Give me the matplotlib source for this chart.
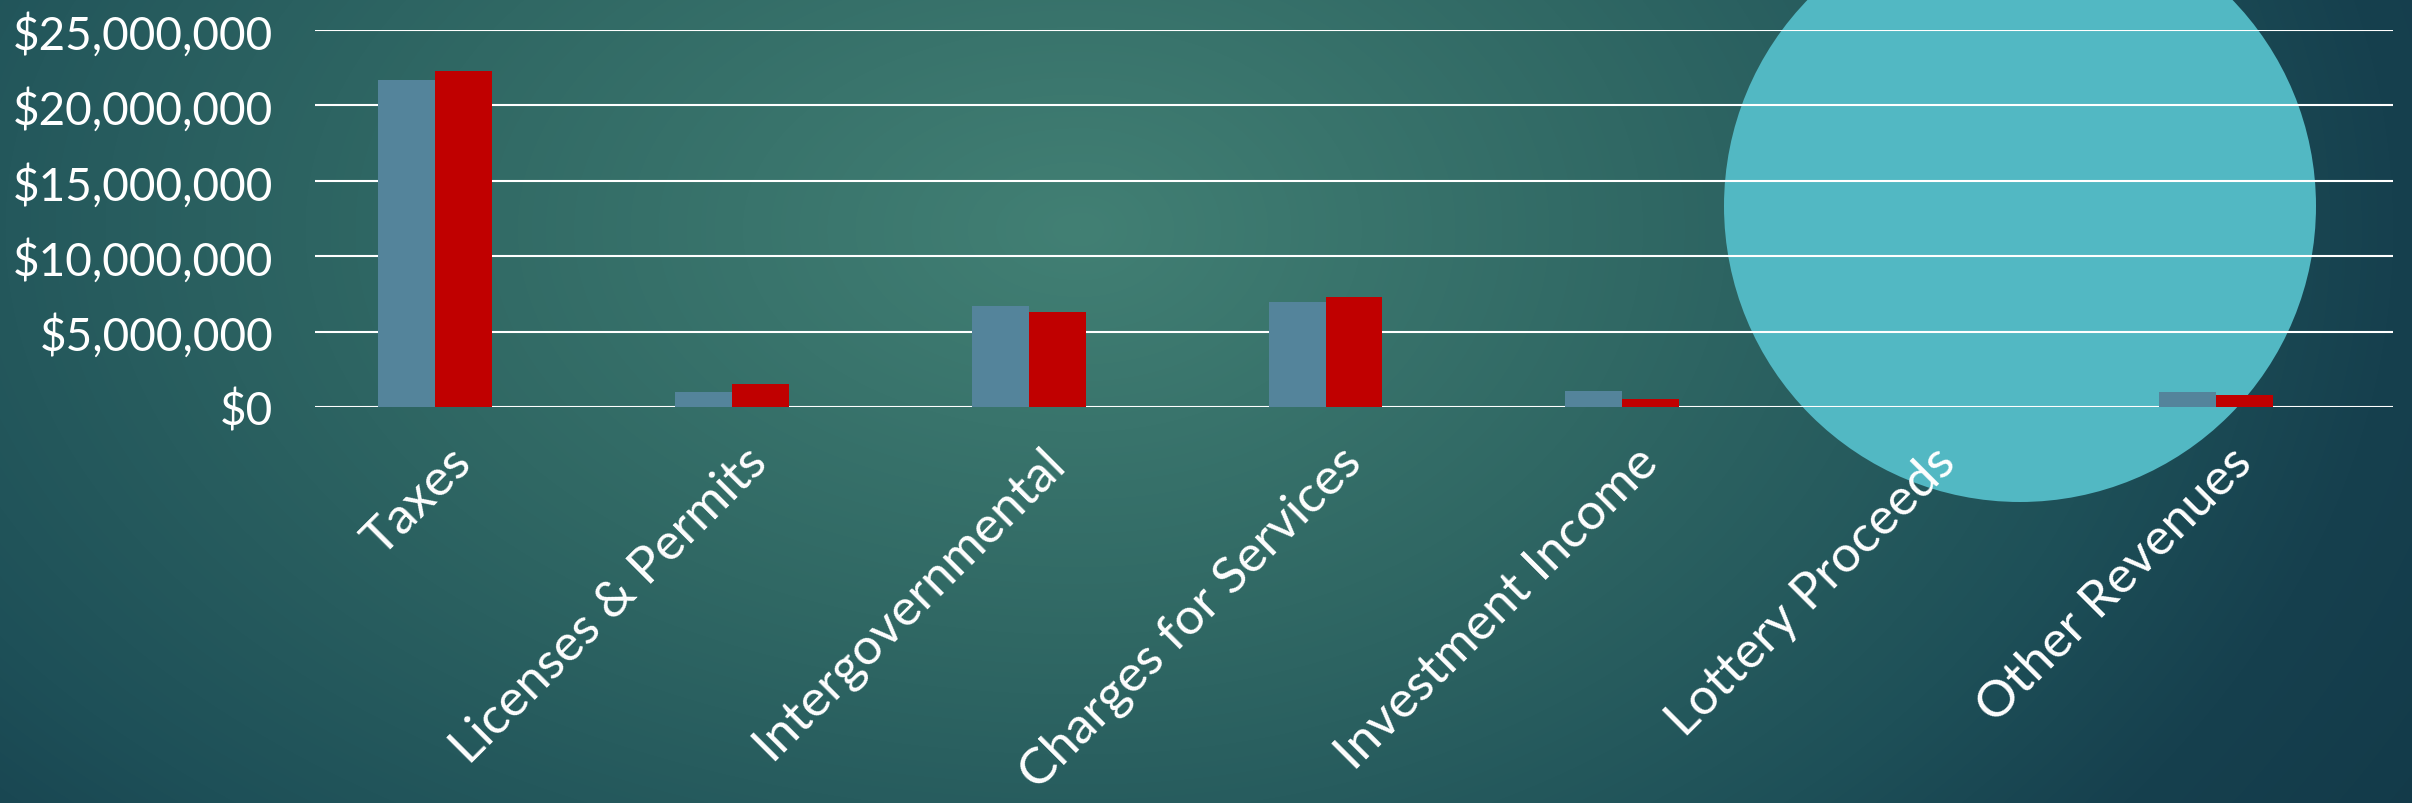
import numpy as np
import matplotlib
matplotlib.use("Agg")
import matplotlib.pyplot as plt
from matplotlib.patches import Ellipse
from matplotlib.ticker import StrMethodFormatter, FixedLocator

# Revenue by source, two fiscal years
categories = ["Taxes", "Licenses & Permits", "Intergovernmental",
              "Charges for Services", "Investment Income",
              "Lottery Proceeds", "Other Revenues"]
revenue_prior = [21_660_000, 1_010_000, 6_720_000, 6_980_000, 1_080_000, 0, 1_010_000]
revenue_current = [22_260_000, 1_550_000, 6_320_000, 7_310_000, 550_000, 0, 820_000]
y_ticks = [0, 5_000_000, 10_000_000, 15_000_000, 20_000_000, 25_000_000]

W, H, DPI = 2412, 804, 100
FONT = "Lato"

fig = plt.figure(figsize=(W / DPI, H / DPI), dpi=DPI)

# ---- slide background: radial teal gradient plus a decorative disc ----
bg = fig.add_axes([0, 0, 1, 1], zorder=-5)
bg.set_xlim(0, W)
bg.set_ylim(H, 0)
bg.axis("off")
yy, xx = np.mgrid[0:H, 0:W].astype(float)
cx, cy = 1080.0, 230.0
rx = np.where(xx < cx, 1500.0, 1250.0)
d = np.sqrt(((xx - cx) / rx) ** 2 + ((yy - cy) / 900.0) ** 2)
stops = np.array([0.0, 0.45, 0.85, 1.05, 1.4])
cols = np.array([[66, 128, 116],
                 [48, 104, 100],
                 [30, 80, 88],
                 [22, 64, 78],
                 [17, 54, 70]], float) / 255.0
img = np.stack([np.interp(d, stops, cols[:, k]) for k in range(3)], axis=-1)
bg.imshow(img, extent=(0, W, H, 0), aspect="auto", interpolation="bilinear")
bg.add_patch(Ellipse((2020, 207), 592, 592, facecolor="#52B8C3", edgecolor="none"))

# ---- clustered column chart ----
ax = fig.add_axes([315 / W, 1 - 408 / H, (2393 - 315) / W, (408 - 31) / H])
ax.set_facecolor("none")
x = np.arange(len(categories))
w = 0.192
ax.bar(x - w, revenue_prior, width=w, align="center", color="#54849B", zorder=3)
ax.bar(x, revenue_current, width=w, align="center", color="#C00000", zorder=3)

ax.set_xlim(-0.5, len(categories) - 0.5)
ax.set_ylim(y_ticks[0], y_ticks[-1])
ax.yaxis.set_major_locator(FixedLocator(y_ticks))
ax.yaxis.set_major_formatter(StrMethodFormatter("${x:,.0f}"))
ax.grid(axis="y", color="white", linewidth=1.5, zorder=1)
ax.set_axisbelow(True)
for s in ax.spines.values():
    s.set_visible(False)

ax.tick_params(axis="y", length=0, pad=30, labelcolor="white", labelsize=33)
for lab in ax.get_yticklabels():
    lab.set_fontfamily(FONT)

ax.set_xticks(x)
ax.set_xticklabels(categories, rotation=45, ha="right", va="center",
                   rotation_mode="anchor", color="white", fontsize=37,
                   fontfamily=FONT)
ax.tick_params(axis="x", length=0, pad=34)

fig.savefig("out.png", dpi=DPI)
